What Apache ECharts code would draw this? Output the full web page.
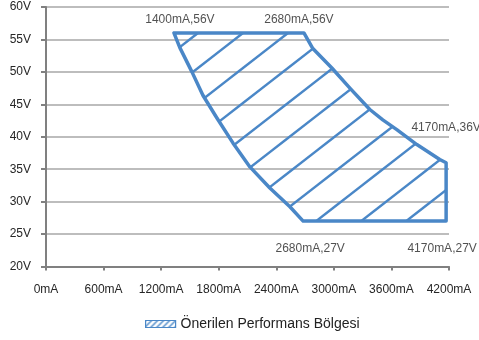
<!DOCTYPE html>
<html>
<head>
<meta charset="utf-8">
<script src="https://cdn.jsdelivr.net/npm/echarts@6/dist/echarts.min.js"></script>
<style>
html,body{margin:0;padding:0;background:#fff;}
#chart{width:479px;height:340px;}
</style>
</head>
<body>
<div id="chart"></div>
<script>
// ---- data ----
const seriesName = 'Önerilen Performans Bölgesi';
const currentTicks = [0, 600, 1200, 1800, 2400, 3000, 3600, 4200];
const voltageTicks = [20, 25, 30, 35, 40, 45, 50, 55, 60];
const currentUnit = 'mA';
const voltageUnit = 'V';
// boundary of the recommended region (mA, V), clockwise from top-left
const boundaryCurrent = [1333, 2688, 2781, 2979, 3167, 3375, 3510, 3656, 3865, 4104, 4170, 4170, 2680, 2542, 2333, 2125, 1948, 1781, 1635, 1521, 1396];
const boundaryVoltage = [56, 56, 53.6, 50.6, 47.5, 44.2, 42.6, 41.1, 38.8, 36.5, 36, 27, 27, 29.2, 32.1, 35.35, 39.05, 42.9, 46.4, 50.0, 53.7];
// corner annotations
const cornerLabels = ['1400mA,56V', '2680mA,56V', '4170mA,36V', '2680mA,27V', '4170mA,27V'];
const cornerCurrent = [1333, 2688, 4170, 2680, 4170];
const cornerVoltage = [56, 56, 36, 27, 27];

// ---- styles ----
const BLUE = '#4a87c7';
const labelOffsets = [[6, -13], [-5, -13], [0, -35], [7, 27.5], [-4, 27.5]];

function makeHatch(w, h, c, lw, color) {
  const cv = document.createElement('canvas');
  cv.width = w; cv.height = h;
  const ctx = cv.getContext('2d');
  ctx.strokeStyle = color; ctx.lineWidth = lw;
  const s = h / w;
  for (let k = -2; k <= 2; k++) {
    const y0 = c + h * k;
    ctx.beginPath();
    ctx.moveTo(-5, y0 + s * 5);
    ctx.lineTo(w + 5, y0 - s * (w + 5));
    ctx.stroke();
  }
  return { image: cv, repeat: 'repeat' };
}
const bigHatch = makeHatch(45, 35, 12, 2.5, BLUE);
const smallHatch = makeHatch(6, 6, 0, 1.4, BLUE);

const FONT = "'Liberation Sans', Arial, sans-serif";
const chart = echarts.init(document.getElementById('chart'), null, { renderer: 'canvas' });
chart.setOption({
  animation: false,
  backgroundColor: '#fff',
  grid: { left: 46, right: 30, top: 7, bottom: 73.5, containLabel: false },
  xAxis: {
    type: 'value',
    min: currentTicks[0], max: currentTicks[currentTicks.length - 1], interval: currentTicks[1] - currentTicks[0],
    axisLine: { show: true, lineStyle: { color: '#808080', width: 2 } },
    axisTick: { show: true, length: 4, lineStyle: { color: '#808080', width: 2 } },
    splitLine: { show: false },
    axisLabel: { margin: 17, color: '#262626', fontSize: 12, fontFamily: FONT, formatter: v => v + currentUnit }
  },
  yAxis: {
    type: 'value',
    min: voltageTicks[0], max: voltageTicks[voltageTicks.length - 1], interval: voltageTicks[1] - voltageTicks[0],
    axisLine: { show: true, lineStyle: { color: '#808080', width: 2 } },
    axisTick: { show: true, length: 5, lineStyle: { color: '#808080', width: 2 } },
    splitLine: { show: true, lineStyle: { color: '#bdbdbd', width: 2 } },
    axisLabel: { margin: 15, color: '#262626', fontSize: 12, fontFamily: FONT, formatter: v => v + voltageUnit }
  },
  legend: {
    left: 140, top: 312,
    itemWidth: 30, itemHeight: 7,
    textStyle: { color: '#222', fontSize: 14, fontFamily: FONT },
    data: [{ name: seriesName, icon: 'rect', itemStyle: { color: smallHatch, borderColor: BLUE, borderWidth: 1.2 } }]
  },
  series: [
    {
      name: seriesName,
      type: 'custom',
      coordinateSystem: 'cartesian2d',
      itemStyle: { color: BLUE },
      encode: { x: 0, y: 1 },
      data: boundaryCurrent.map((c, i) => [c, boundaryVoltage[i]]),
      renderItem: function (params, api) {
        if (params.dataIndex !== 0) return null;
        const pts = boundaryCurrent.map((c, i) => api.coord([c, boundaryVoltage[i]]));
        return {
          type: 'polygon',
          shape: { points: pts },
          style: { fill: bigHatch, stroke: BLUE, lineWidth: 3.5, lineJoin: 'round' }
        };
      },
      z: 3
    },
    {
      name: 'labels',
      type: 'scatter',
      symbolSize: 0,
      silent: true,
      z: 5,
      data: cornerLabels.map((t, i) => ({
        value: [cornerCurrent[i], cornerVoltage[i]],
        label: { show: true, position: 'inside', formatter: t, offset: labelOffsets[i], color: '#262626', fontSize: 12, fontFamily: FONT }
      }))
    }
  ]
});
</script>
</body>
</html>
